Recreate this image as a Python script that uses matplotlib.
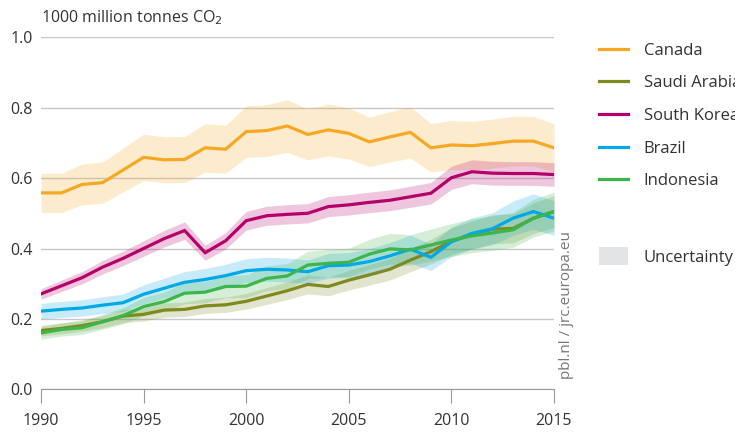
import matplotlib
matplotlib.use("Agg")
import matplotlib.pyplot as plt
import numpy as np
from matplotlib.lines import Line2D
from matplotlib.patches import Patch

plt.rcParams['font.family'] = ['Open Sans', 'DejaVu Sans']

years = np.arange(1990, 2016)

canada = [0.558, 0.558, 0.582, 0.587, 0.623, 0.659, 0.652, 0.653, 0.686, 0.682,
          0.732, 0.735, 0.748, 0.724, 0.737, 0.727, 0.703, 0.717, 0.730, 0.686,
          0.694, 0.692, 0.698, 0.705, 0.705, 0.686]
saudi = [0.167, 0.173, 0.181, 0.192, 0.208, 0.213, 0.225, 0.227, 0.237, 0.240,
         0.250, 0.265, 0.280, 0.298, 0.292, 0.310, 0.325, 0.341, 0.367, 0.391,
         0.421, 0.438, 0.455, 0.457, 0.486, 0.505]
korea = [0.271, 0.294, 0.317, 0.347, 0.372, 0.400, 0.428, 0.451, 0.388, 0.422,
         0.479, 0.493, 0.497, 0.500, 0.519, 0.524, 0.531, 0.537, 0.547, 0.557,
         0.601, 0.618, 0.614, 0.613, 0.613, 0.610]
brazil = [0.222, 0.227, 0.231, 0.239, 0.246, 0.270, 0.287, 0.304, 0.312, 0.323,
          0.337, 0.341, 0.339, 0.334, 0.351, 0.353, 0.363, 0.379, 0.398, 0.375,
          0.419, 0.443, 0.456, 0.486, 0.505, 0.486]
indonesia = [0.160, 0.170, 0.175, 0.192, 0.209, 0.235, 0.249, 0.273, 0.276, 0.292,
             0.293, 0.315, 0.322, 0.353, 0.358, 0.361, 0.384, 0.399, 0.396, 0.410,
             0.424, 0.436, 0.444, 0.453, 0.486, 0.505]

names = ['Canada', 'Saudi Arabia', 'South Korea', 'Brazil', 'Indonesia']
series = [canada, saudi, korea, brazil, indonesia]
colors = ['#f7a823', '#7f8a1e', '#b5006b', '#00a8e8', '#3cb54a']
# relative uncertainty per country
uncert = [0.10, 0.09, 0.055, 0.10, 0.11]

fig = plt.figure(figsize=(7.35, 4.32), dpi=100)
ax = fig.add_axes([41/735, 1-389.3/432, 513/735, 352/432])

for vals, c, u in zip(series, colors, uncert):
    v = np.array(vals)
    ax.fill_between(years, v*(1-u), v*(1+u), color=c, alpha=0.22, lw=0)
for vals, c in zip(series, colors):
    ax.plot(years, vals, color=c, lw=2.3, solid_joinstyle='miter')

ax.set_xlim(1990, 2015)
ax.set_ylim(0, 1.0)
ax.set_yticks([0.0, 0.2, 0.4, 0.6, 0.8, 1.0])
ax.set_yticklabels(['0.0', '0.2', '0.4', '0.6', '0.8', '1.0'])
ax.set_xticks([1990, 1995, 2000, 2005, 2010, 2015])
ax.grid(axis='y', color='#c8c8c8', lw=1)
ax.set_axisbelow(True)
for s in ['top', 'right', 'left']:
    ax.spines[s].set_visible(False)
ax.spines['bottom'].set_color('#999999')
ax.tick_params(axis='x', length=10, color='#999999', labelsize=11.5, labelcolor='#333333', pad=7)
ax.tick_params(axis='y', length=0, labelsize=11.5, labelcolor='#333333', pad=6)

fig.text(41/735, 1-18/432, '1000 million tonnes CO$_2$', fontsize=11.5, color='#333333',
         ha='left', va='center')
fig.text(567/735, 1-305/432, 'pbl.nl / jrc.europa.eu', fontsize=11, color='#777777',
         rotation=90, ha='center', va='center')

handles = [Line2D([0], [0], color=c, lw=2.3) for c in colors]
leg = fig.legend(handles, names, loc='upper left', bbox_to_anchor=(592/735, 1-36/432),
                 frameon=False, fontsize=12, handlelength=1.75, handletextpad=0.95,
                 labelspacing=1.0, borderaxespad=0)
for t in leg.get_texts():
    t.set_color('#333333')
leg2 = fig.legend([Patch(color='#e3e4e6', lw=0)], ['Uncertainty'], loc='upper left',
                  bbox_to_anchor=(592/735, 1-240/432), frameon=False, fontsize=12,
                  handlelength=1.75, handleheight=1.35, handletextpad=0.95, borderaxespad=0)
for t in leg2.get_texts():
    t.set_color('#333333')

fig.savefig('out.png', dpi=100)
